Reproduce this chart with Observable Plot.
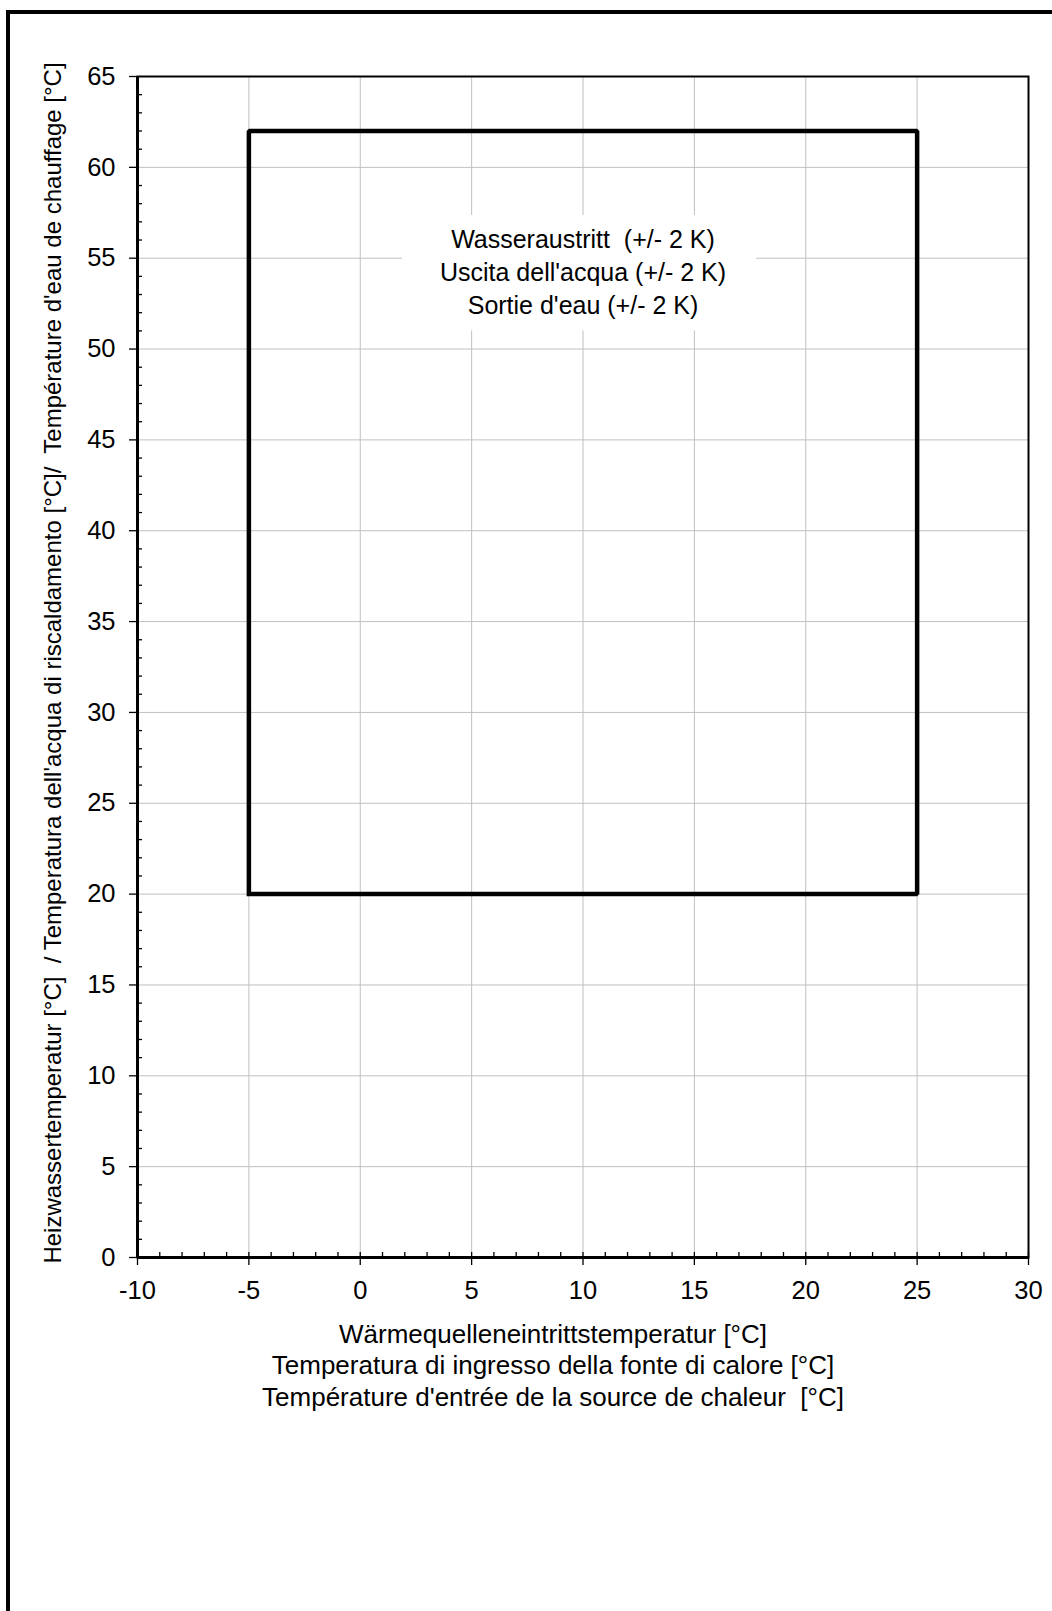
<!DOCTYPE html>
<html>
<head>
<meta charset="utf-8">
<script src="https://cdn.jsdelivr.net/npm/d3@7"></script>
<script src="https://cdn.jsdelivr.net/npm/@observablehq/plot@0.6"></script>
<style>
  html, body { margin: 0; padding: 0; background: #fff; }
  #wrap { position: relative; width: 1052px; height: 1611px; overflow: hidden; }
  #wrap svg { position: absolute; left: 0; top: 0; }
  #border { position: absolute; left: 6px; top: 10px; right: -20px; bottom: -20px;
            border-left: 4px solid #000; border-top: 4px solid #000; pointer-events: none; }
  svg text { white-space: pre; }
</style>
</head>
<body>
<div id="wrap"></div>
<script>
// ---- data ----
const xDomain = [-10, 30];
const yDomain = [0, 65];
const xMajorTicks = [-10, -5, 0, 5, 10, 15, 20, 25, 30];
const yMajorTicks = [0, 5, 10, 15, 20, 25, 30, 35, 40, 45, 50, 55, 60, 65];
const xMinorTicks = d3.range(-10, 31, 1);
const yMinorTicks = d3.range(0, 66, 1).filter(v => v % 5 !== 0);

// operating envelope (closed polygon)
const envelopeX = [-5, 25, 25, -5, -5];
const envelopeY = [20, 20, 62, 62, 20];

// annotation
const noteLines = ["Wasseraustritt  (+/- 2 K)", "Uscita dell'acqua (+/- 2 K)", "Sortie d'eau (+/- 2 K)"];
const noteX = [10];
const noteY = [54.32];
const noteBoxX = [1.9, 17.8];
const noteBoxY = [51.0, 57.35];

const xLabelLines = [
  "Wärmequelleneintrittstemperatur [°C]",
  "Temperatura di ingresso della fonte di calore [°C]",
  "Température d'entrée de la source de chaleur  [°C]"
];
const yLabel = "Heizwassertemperatur [°C]  / Temperatura dell'acqua di riscaldamento [°C]/  Température d'eau de chauffage [°C]";

// ---- derived tables ----
const envelope = envelopeX.map((x, i) => ({x, y: envelopeY[i]}));
const note = noteX.map((x, i) => ({x, y: noteY[i], text: noteLines.join("\n")}));
const noteBox = [{x1: noteBoxX[0], x2: noteBoxX[1], y1: noteBoxY[0], y2: noteBoxY[1]}];

const font = "'Liberation Sans', Arial, Helvetica, sans-serif";

const chart = Plot.plot({
  width: 1052,
  height: 1611,
  marginLeft: 137,
  marginRight: 24,
  marginTop: 76,
  marginBottom: 354,
  style: {fontFamily: font, color: "#000", background: "transparent", overflow: "visible"},
  x: {domain: xDomain},
  y: {domain: yDomain},
  marks: [
    Plot.gridX(xMajorTicks, {stroke: "#c0c0c0", strokeOpacity: 1, strokeWidth: 1}),
    Plot.gridY(yMajorTicks, {stroke: "#c0c0c0", strokeOpacity: 1, strokeWidth: 1}),
    Plot.rect(noteBox, {x1: "x1", x2: "x2", y1: "y1", y2: "y2", fill: "#fff"}),
    Plot.line(envelope, {x: "x", y: "y", stroke: "#000", strokeWidth: 4.5,
                         strokeLinejoin: "miter", strokeLinecap: "square"}),
    Plot.text(note, {x: "x", y: "y", text: "text", fontSize: 25, lineHeight: 1.33, fill: "#000"}),
    Plot.frame({stroke: "#000", strokeWidth: 2}),
    Plot.ruleX([xDomain[0]], {stroke: "#000", strokeWidth: 3}),
    Plot.ruleY([yDomain[0]], {stroke: "#000", strokeWidth: 3}),
    Plot.axisX(xMinorTicks, {anchor: "bottom", tickSize: -5, tickFormat: () => "", label: null, strokeWidth: 1.3}),
    Plot.axisY(yMinorTicks, {anchor: "left", tickSize: -5, tickFormat: () => "", label: null, strokeWidth: 1.3}),
    Plot.axisX(xMajorTicks, {anchor: "bottom", tickSize: 8, tickPadding: 15, fontSize: 25.5,
                             label: null, strokeWidth: 1.3, tickFormat: d => String(d)}),
    Plot.axisY(yMajorTicks, {anchor: "left", tickSize: 8, tickPadding: 14, fontSize: 25.5,
                             label: null, strokeWidth: 1.3, tickFormat: d => String(d)}),
    Plot.text([xLabelLines.join("\n")], {frameAnchor: "bottom", lineAnchor: "top", text: d => d,
                             dy: 63, dx: -30, fontSize: 26, lineHeight: 1.21, fill: "#000"}),
    Plot.text([yLabel], {frameAnchor: "left", textAnchor: "middle", lineAnchor: "middle", rotate: -90,
                         text: d => d, dx: -84, dy: -4, fontSize: 24, fill: "#000"})
  ]
});

const wrap = document.getElementById("wrap");
wrap.appendChild(chart);
const border = document.createElement("div");
border.id = "border";
wrap.appendChild(border);
</script>
</body>
</html>
